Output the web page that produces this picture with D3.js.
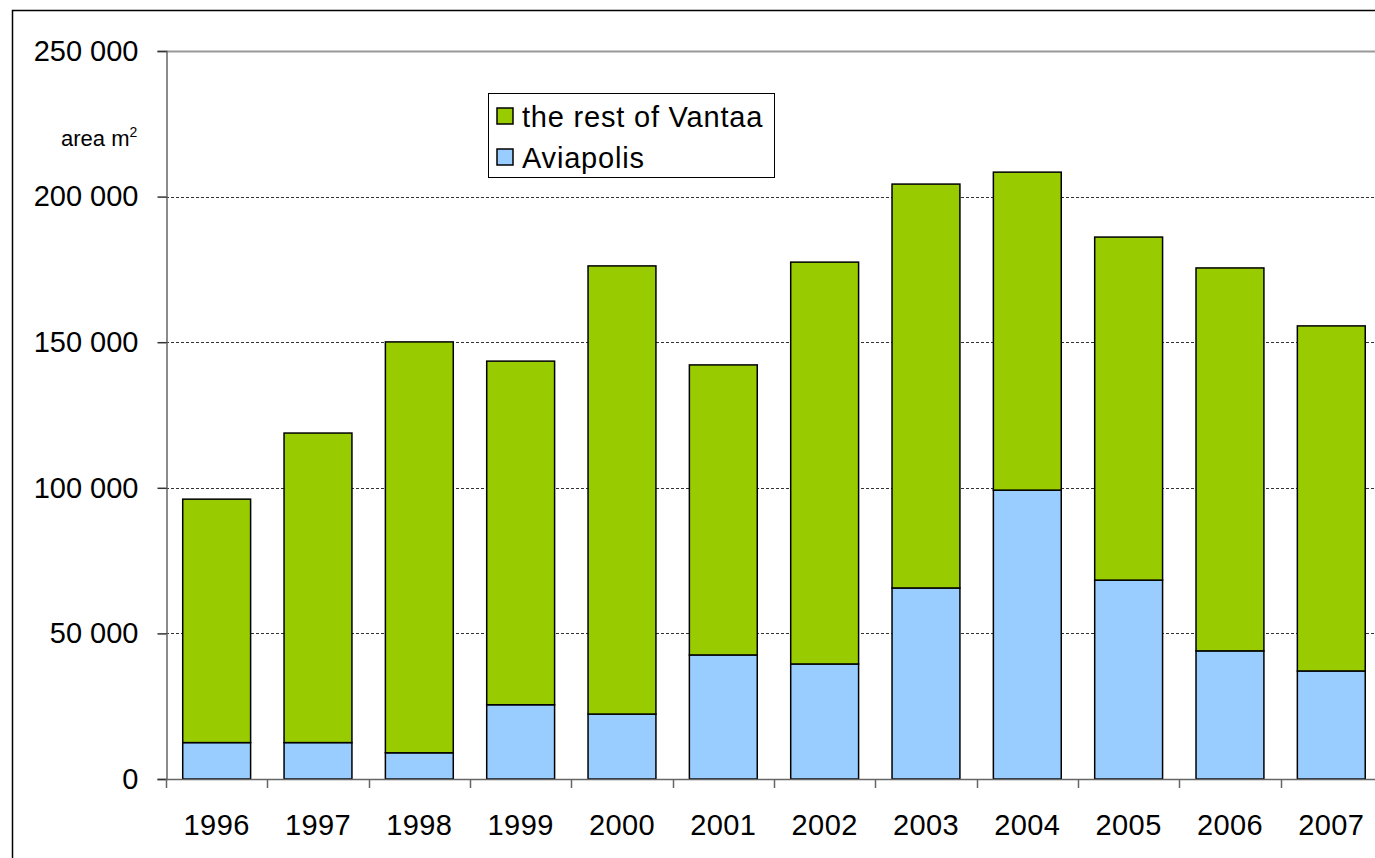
<!DOCTYPE html>
<html>
<head>
<meta charset="utf-8">
<script src="https://d3js.org/d3.v7.min.js"></script>
<style>
  body { margin: 0; background: #fff; }
  svg { display: block; font-family: "Liberation Sans", Arial, sans-serif; }
</style>
</head>
<body>
<svg width="1375" height="858"></svg>
<script>
var years = ['1996', '1997', '1998', '1999', '2000', '2001', '2002', '2003', '2004', '2005', '2006', '2007'];
var aviapolis = [12500, 12500, 9000, 25500, 22300, 42600, 39500, 65600, 99200, 68300, 44000, 37100];
var restOfVantaa = [83600, 106300, 141100, 118000, 153900, 99600, 138000, 138700, 109200, 117800, 131500, 118500];
var yTicks = [0, 50000, 100000, 150000, 200000, 250000];
var seriesNames = ['Aviapolis', 'the rest of Vantaa'];
var colors = ['#99ccff', '#99cc00'];

var svg = d3.select('svg');

// outer chart border (runs off the right and bottom of the picture)
svg.append('rect')
  .attr('x', 12.5).attr('y', 10.5)
  .attr('width', 1400).attr('height', 900)
  .attr('fill', 'none').attr('stroke', '#000').attr('stroke-width', 1.5);

var plotLeft = 166, plotTop = 51, plotBottom = 779, plotRight = 166 + 12 * 101.33;

var x = d3.scaleBand().domain(years).range([plotLeft, plotRight]).paddingInner(0.33).paddingOuter(0.165);
var y = d3.scaleLinear().domain([0, 250000]).range([plotBottom, plotTop]);

// gridlines
svg.append('g').selectAll('line')
  .data(yTicks.filter(function(d) { return d > 0; }))
  .enter().append('line')
  .attr('x1', plotLeft).attr('x2', 1375)
  .attr('y1', function(d) { return Math.round(y(d)) + 0.5; })
  .attr('y2', function(d) { return Math.round(y(d)) + 0.5; })
  .attr('stroke', function(d) { return d === 250000 ? '#999' : '#333'; })
  .attr('stroke-width', function(d) { return d === 250000 ? 2 : 1; })
  .attr('stroke-dasharray', function(d) { return d === 250000 ? null : '3,2'; });

// stacked bars
var table = years.map(function(yr, i) {
  return { year: yr, 'Aviapolis': aviapolis[i], 'the rest of Vantaa': restOfVantaa[i] };
});
var stack = d3.stack().keys(seriesNames);

svg.append('g').selectAll('g')
  .data(stack(table))
  .enter().append('g')
  .attr('fill', function(d, i) { return colors[i]; })
  .selectAll('rect')
  .data(function(d) { return d; })
  .enter().append('rect')
  .attr('x', function(d) { return x(d.data.year); })
  .attr('y', function(d) { return y(d[1]); })
  .attr('width', x.bandwidth())
  .attr('height', function(d) { return y(d[0]) - y(d[1]); })
  .attr('stroke', '#000')
  .attr('stroke-width', 1.5);

// y axis
var yAxis = d3.axisLeft(y).tickValues(yTicks).tickSize(9).tickPadding(19)
  .tickFormat(function(d) { return d3.format(',')(d).replace(/,/g, ' '); });
var gy = svg.append('g').attr('transform', 'translate(' + (plotLeft + 0.5) + ',0)').call(yAxis);
gy.select('.domain').attr('stroke', '#666').attr('stroke-width', 1.5);
gy.selectAll('.tick line').attr('stroke', '#333').attr('stroke-width', 1.5);
gy.selectAll('.tick text').attr('font-size', 29).attr('fill', '#000')
  .attr('font-family', 'Liberation Sans, Arial, sans-serif');

// x axis with ticks between categories
svg.append('line').attr('x1', plotLeft).attr('x2', 1375)
  .attr('y1', plotBottom + 0.5).attr('y2', plotBottom + 0.5)
  .attr('stroke', '#666').attr('stroke-width', 1.5);
var step = x.step();
svg.append('g').selectAll('line')
  .data(d3.range(years.length + 1))
  .enter().append('line')
  .attr('x1', function(i) { return Math.round(plotLeft + i * step) + 0.5; })
  .attr('x2', function(i) { return Math.round(plotLeft + i * step) + 0.5; })
  .attr('y1', plotBottom).attr('y2', plotBottom + 9)
  .attr('stroke', '#666').attr('stroke-width', 1.5);
svg.append('g').selectAll('text')
  .data(years)
  .enter().append('text')
  .attr('x', function(d) { return x(d) + x.bandwidth() / 2; })
  .attr('y', 835)
  .attr('text-anchor', 'middle')
  .attr('font-size', 29)
  .attr('letter-spacing', 0.4)
  .text(function(d) { return d; });

// axis unit label
var unit = svg.append('text').attr('x', 61).attr('y', 146).attr('font-size', 22);
unit.append('tspan').text('area m');
unit.append('tspan').attr('dy', -9).attr('font-size', 14).text('2');

// legend
var legend = svg.append('g');
legend.append('rect')
  .attr('x', 488.5).attr('y', 93.5).attr('width', 286).attr('height', 84)
  .attr('fill', '#fff').attr('stroke', '#000').attr('stroke-width', 1);
var legendOrder = [1, 0];
legendOrder.forEach(function(s, i) {
  var ly = 108 + i * 41;
  legend.append('rect')
    .attr('x', 497).attr('y', ly).attr('width', 16).attr('height', 16)
    .attr('fill', colors[s]).attr('stroke', '#000').attr('stroke-width', 1.5);
  legend.append('text')
    .attr('x', 522).attr('y', ly + 19)
    .attr('font-size', 29)
    .attr('letter-spacing', 0.8)
    .text(seriesNames[s]);
});
</script>
</body>
</html>
